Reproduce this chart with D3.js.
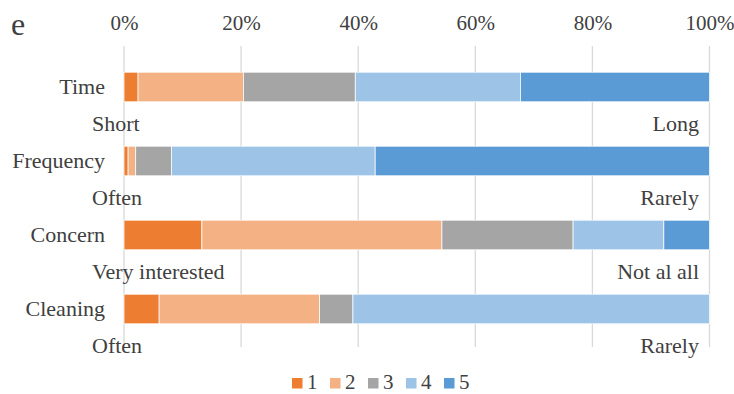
<!DOCTYPE html>
<html>
<head>
<meta charset="utf-8">
<script src="https://cdn.jsdelivr.net/npm/d3@7"></script>
<style>
  html, body { margin: 0; padding: 0; background: #fff; }
  svg text { font-family: "Liberation Serif", "Times New Roman", Tinos, "DejaVu Serif", serif; }
</style>
</head>
<body>
<svg id="chart" width="734" height="394"></svg>
<script>
// Survey items, top to bottom
const categories = ["Time", "Frequency", "Concern", "Cleaning"];
// Share of answers (%) for each rating 1..5, one value per item
const rating1 = [2.4, 0.7, 13.3, 6.0];
const rating2 = [18.0, 1.3, 41.0, 27.4];
const rating3 = [19.1, 6.1, 22.4, 5.7];
const rating4 = [28.2, 34.8, 15.5, 60.9];
const rating5 = [32.3, 57.1, 7.8, 0.0];
const ratingNames = ["1", "2", "3", "4", "5"];
// Scale end labels under each bar
const lowLabels = ["Short", "Often", "Very interested", "Often"];
const highLabels = ["Long", "Rarely", "Not al all", "Rarely"];
const tickValues = [0, 20, 40, 60, 80, 100];
const panelLetter = "e";

const colors = ["#ED7D31", "#F4B183", "#A5A5A5", "#9DC3E6", "#5B9BD5"];
const textColor = "#404040";
const labelSize = 22;
const tickSize = 21;

const svg = d3.select("#chart");

const rows = categories.map((c, i) => ({
  category: c,
  "1": rating1[i], "2": rating2[i], "3": rating3[i], "4": rating4[i], "5": rating5[i]
}));

const x = d3.scaleLinear().domain([0, 100]).range([124, 709.5]);
const y = d3.scaleBand().domain(categories).range([50, 346])
  .paddingInner(0.6).paddingOuter(0.3);

const stack = d3.stack().keys(ratingNames);
const series = stack(rows);

// Panel letter
svg.append("text")
  .attr("x", 11).attr("y", 35)
  .attr("font-size", 32)
  .attr("fill", textColor)
  .text(panelLetter);

// Vertical gridlines
svg.append("g")
  .selectAll("line")
  .data(tickValues)
  .join("line")
  .attr("x1", d => x(d)).attr("x2", d => x(d))
  .attr("y1", 46).attr("y2", 347)
  .attr("stroke", "#d9d9d9")
  .attr("stroke-width", 1.3);

// Top axis labels
const axis = svg.append("g")
  .attr("transform", "translate(0,37)")
  .call(d3.axisTop(x).tickValues(tickValues).tickFormat(d => d + "%").tickSize(0).tickPadding(7));
axis.attr("font-family", null);
axis.select(".domain").remove();
axis.selectAll("text")
  .attr("font-size", tickSize)
  .attr("fill", textColor);

// Stacked bars
svg.append("g")
  .selectAll("g")
  .data(series)
  .join("g")
  .attr("fill", (d, i) => colors[i])
  .selectAll("rect")
  .data(d => d.filter(s => s[1] - s[0] > 0))
  .join("rect")
  .attr("x", d => x(d[0]))
  .attr("y", d => y(d.data.category))
  .attr("width", d => x(d[1]) - x(d[0]))
  .attr("height", y.bandwidth())
  .attr("stroke", "#fff")
  .attr("stroke-width", 0.75);

// Category labels
svg.append("g")
  .selectAll("text")
  .data(categories)
  .join("text")
  .attr("x", 105)
  .attr("y", d => y(d) + y.bandwidth() / 2 + 7)
  .attr("text-anchor", "end")
  .attr("font-size", labelSize)
  .attr("fill", textColor)
  .text(d => d);

// Low / high end labels
svg.append("g")
  .selectAll("text")
  .data(categories)
  .join("text")
  .attr("x", 92)
  .attr("y", d => y(d) + y.bandwidth() / 2 + 43.5)
  .attr("font-size", labelSize)
  .attr("fill", textColor)
  .text((d, i) => lowLabels[i]);

svg.append("g")
  .selectAll("text")
  .data(categories)
  .join("text")
  .attr("x", 699)
  .attr("y", d => y(d) + y.bandwidth() / 2 + 43.5)
  .attr("text-anchor", "end")
  .attr("font-size", labelSize)
  .attr("fill", textColor)
  .text((d, i) => highLabels[i]);

// Legend
const legend = svg.append("g")
  .selectAll("g")
  .data(ratingNames)
  .join("g")
  .attr("transform", (d, i) => `translate(${292 + i * 38},378)`);
legend.append("rect")
  .attr("width", 10.5).attr("height", 10.5)
  .attr("fill", (d, i) => colors[i]);
legend.append("text")
  .attr("x", 15).attr("y", 11)
  .attr("font-size", tickSize)
  .attr("fill", textColor)
  .text(d => d);
</script>
</body>
</html>
